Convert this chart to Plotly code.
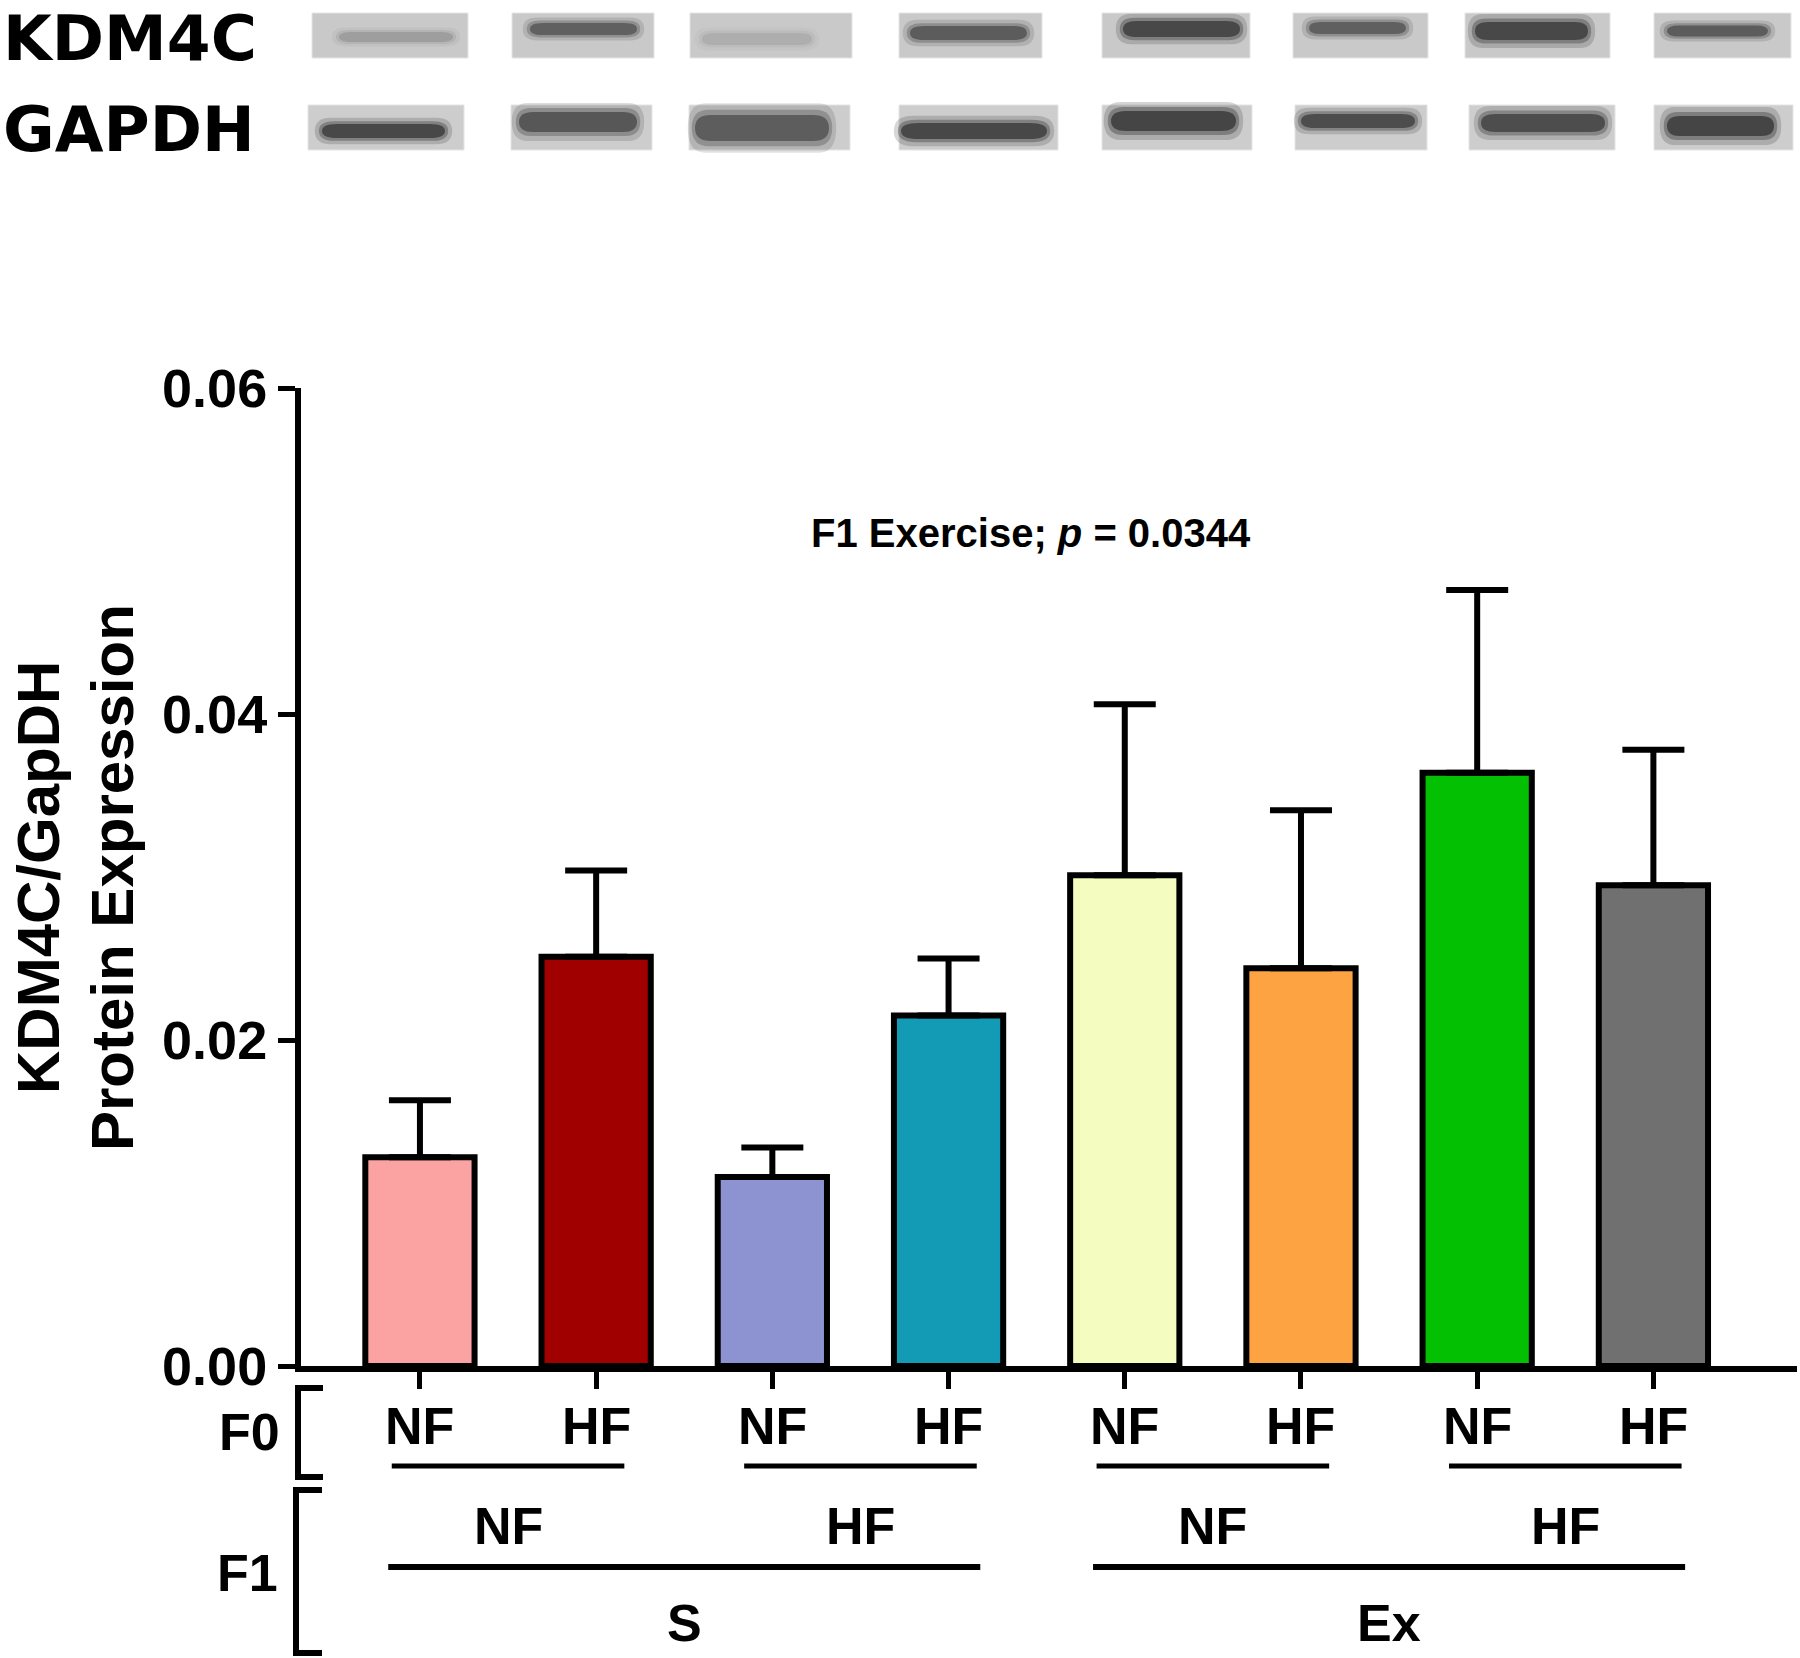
import plotly.graph_objects as go

# ---------------- data ----------------
groups = ["S NF/NF", "S NF/HF", "S HF/NF", "S HF/HF", "Ex NF/NF", "Ex NF/HF", "Ex HF/NF", "Ex HF/HF"]
f0_labels = ["NF", "HF", "NF", "HF", "NF", "HF", "NF", "HF"]
f1_labels = ["NF", "HF", "NF", "HF"]
ex_labels = ["S", "Ex"]
means = [0.0128, 0.0251, 0.0116, 0.0215, 0.0301, 0.0244, 0.0364, 0.0295]
sems = [0.0035, 0.0053, 0.0018, 0.0035, 0.0105, 0.0097, 0.0112, 0.0083]
bar_colors = ["#FBA2A2", "#A00000", "#8C93D0", "#139AB5", "#F4FCC0", "#FDA342", "#03C003", "#707070"]
y_ticks = [0.0, 0.02, 0.04, 0.06]
annot_text = "F1 Exercise; <i>p</i> = 0.0344"
y_title_1 = "KDM4C/GapDH"
y_title_2 = "Protein Expression"

# western blot decoration (pixel geometry of the image strip)
kdm_boxes = [(312, 468), (512, 654), (690, 852), (899, 1042), (1102, 1250), (1293, 1428), (1465, 1610), (1654, 1791)]
gap_boxes = [(308, 464), (511, 652), (689, 850), (899, 1058), (1102, 1252), (1295, 1427), (1469, 1615), (1654, 1793)]
kdm_bands = [(339, 453, 37, 10, 0.25), (530, 637, 29, 12, 0.7), (702, 812, 39, 12, 0.15), (910, 1027, 33, 14, 0.75),
             (1123, 1240, 29, 16, 0.95), (1309, 1406, 28, 12, 0.7), (1475, 1588, 31, 18, 0.95), (1667, 1768, 31, 11, 0.75)]
gap_bands = [(322, 445, 131, 14, 0.95), (519, 637, 122, 20, 0.8), (695, 829, 128, 26, 0.75), (901, 1047, 131, 16, 0.95),
             (1111, 1236, 121, 20, 1.0), (1301, 1415, 121, 14, 0.9), (1481, 1605, 123, 18, 0.9), (1667, 1774, 126, 20, 1.0)]

W, H = 1800, 1658
L, R, T, B = 301, 3, 388, 292
PW, PH = W - L - R, H - T - B
FONT = "Liberation Sans, Arial, Helvetica, sans-serif"


def xp(px):
    return (px - L) / PW


def yp(py):
    return (H - B - py) / PH


x = list(range(len(groups)))

fig = go.Figure()
fig.add_trace(go.Bar(
    x=x, y=means, width=0.62,
    marker=dict(color=bar_colors, line=dict(color="black", width=6)),
    error_y=dict(type="data", array=sems, arrayminus=[0] * len(sems), symmetric=False,
                 color="black", thickness=6, width=31),
    showlegend=False,
))

shapes = []
annotations = []

# ---- blots ----
def band_path(x0, x1, yc, h):
    X0, X1 = xp(x0), xp(x1)
    Y0, Y1 = yp(yc - h / 2), yp(yc + h / 2)
    Ym = yp(yc)
    r = (X1 - X0) * 0.12
    return (f"M {X0 + r},{Y0} L {X1 - r},{Y0} Q {X1},{Y0} {X1},{Ym} Q {X1},{Y1} {X1 - r},{Y1} "
            f"L {X0 + r},{Y1} Q {X0},{Y1} {X0},{Ym} Q {X0},{Y0} {X0 + r},{Y0} Z")


for boxes, bands, (ya, yb), col in [(kdm_boxes, kdm_bands, (13, 58), "#C9C9C9"),
                                    (gap_boxes, gap_bands, (105, 150), "#CDCDCD")]:
    for (a, b) in boxes:
        shapes.append(dict(type="rect", xref="paper", yref="paper", x0=xp(a), x1=xp(b), y0=yp(yb), y1=yp(ya),
                           fillcolor=col, line=dict(color="#E4E4E4", width=1), layer="above"))
    for (a, b, yc, h, k) in bands:
        for grow, op in [(1.9, 0.18), (1.4, 0.3), (1.0, 0.55)]:
            shapes.append(dict(type="path", xref="paper", yref="paper",
                               path=band_path(a - (grow - 1) * 8, b + (grow - 1) * 8, yc, h * grow),
                               fillcolor="#151515", opacity=op * k, line=dict(width=0), layer="above"))

for txt, yc in [("KDM4C", 38), ("GAPDH", 129)]:
    annotations.append(dict(text="<b>" + txt + "</b>", xref="paper", yref="paper", x=xp(1), y=yp(yc),
                            xanchor="left", yanchor="middle", showarrow=False,
                            font=dict(family="DejaVu Sans, sans-serif", size=63, color="black")))

# ---- y axis title ----
annotations.append(dict(text="<b>" + y_title_1 + "</b>", xref="paper", yref="paper",
                        x=xp(38), y=yp(878), textangle=-90, showarrow=False, xanchor="center", yanchor="middle",
                        font=dict(family=FONT, size=60, color="black")))
annotations.append(dict(text="<b>" + y_title_2 + "</b>", xref="paper", yref="paper",
                        x=xp(112), y=yp(878), textangle=-90, showarrow=False, xanchor="center", yanchor="middle",
                        font=dict(family=FONT, size=60, color="black")))

# ---- stats annotation ----
annotations.append(dict(text="<b>" + annot_text + "</b>", xref="x", yref="y", x=3.47, y=0.0511,
                        showarrow=False, font=dict(family=FONT, size=40, color="black")))

# ---- category labels ----
lab_font = dict(family=FONT, size=52, color="black")
for i, t in enumerate(f0_labels):
    annotations.append(dict(text="<b>" + t + "</b>", xref="x", yref="paper", x=i, y=yp(1426),
                            showarrow=False, yanchor="middle", font=lab_font))
for j, t in enumerate(f1_labels):
    c = 2 * j + 0.5
    annotations.append(dict(text="<b>" + t + "</b>", xref="x", yref="paper", x=c, y=yp(1526),
                            showarrow=False, yanchor="middle", font=lab_font))
    shapes.append(dict(type="line", xref="x", yref="paper", x0=c - 0.66, x1=c + 0.66, y0=yp(1466), y1=yp(1466),
                       line=dict(color="black", width=5)))
for j, t in enumerate(ex_labels):
    c = 4 * j + 1.5
    annotations.append(dict(text="<b>" + t + "</b>", xref="x", yref="paper", x=c, y=yp(1623),
                            showarrow=False, yanchor="middle", font=lab_font))
    shapes.append(dict(type="line", xref="x", yref="paper", x0=c - 1.68, x1=c + 1.68, y0=yp(1567), y1=yp(1567),
                       line=dict(color="black", width=6)))

annotations.append(dict(text="<b>F0</b>", xref="paper", yref="paper", x=xp(282), y=yp(1432),
                        xanchor="right", yanchor="middle", showarrow=False, font=lab_font))
annotations.append(dict(text="<b>F1</b>", xref="paper", yref="paper", x=xp(280), y=yp(1573),
                        xanchor="right", yanchor="middle", showarrow=False, font=lab_font))

# brackets
for (xv, ya, yb, xe) in [(298, 1388, 1477, 323), (296, 1490, 1653, 322)]:
    shapes.append(dict(type="path", xref="paper", yref="paper",
                       path=f"M {xp(xe)},{yp(ya)} L {xp(xv)},{yp(ya)} L {xp(xv)},{yp(yb)} L {xp(xe)},{yp(yb)}",
                       line=dict(color="black", width=6)))

fig.update_layout(
    width=W, height=H,
    margin=dict(l=L, r=R, t=T, b=B, pad=0),
    paper_bgcolor="white", plot_bgcolor="white",
    shapes=shapes, annotations=annotations,
    xaxis=dict(range=[-0.675, 7.815], tickvals=x, showticklabels=False, ticks="outside", ticklen=17,
               tickwidth=5, tickcolor="black", showline=True, linewidth=6, linecolor="black",
               showgrid=False, zeroline=False, fixedrange=True),
    yaxis=dict(range=[0, 0.06], tickvals=y_ticks, tickformat=".2f", ticks="outside", ticklen=17,
               tickwidth=5, tickcolor="black", showline=True, linewidth=6, linecolor="black",
               showgrid=False, zeroline=False,
               tickfont=dict(family=FONT, size=54, color="black", weight="bold")),
)

fig.write_html("out.html", config={"displayModeBar": False},
               post_script="document.body.style.margin='0';document.body.style.overflow='hidden';")
